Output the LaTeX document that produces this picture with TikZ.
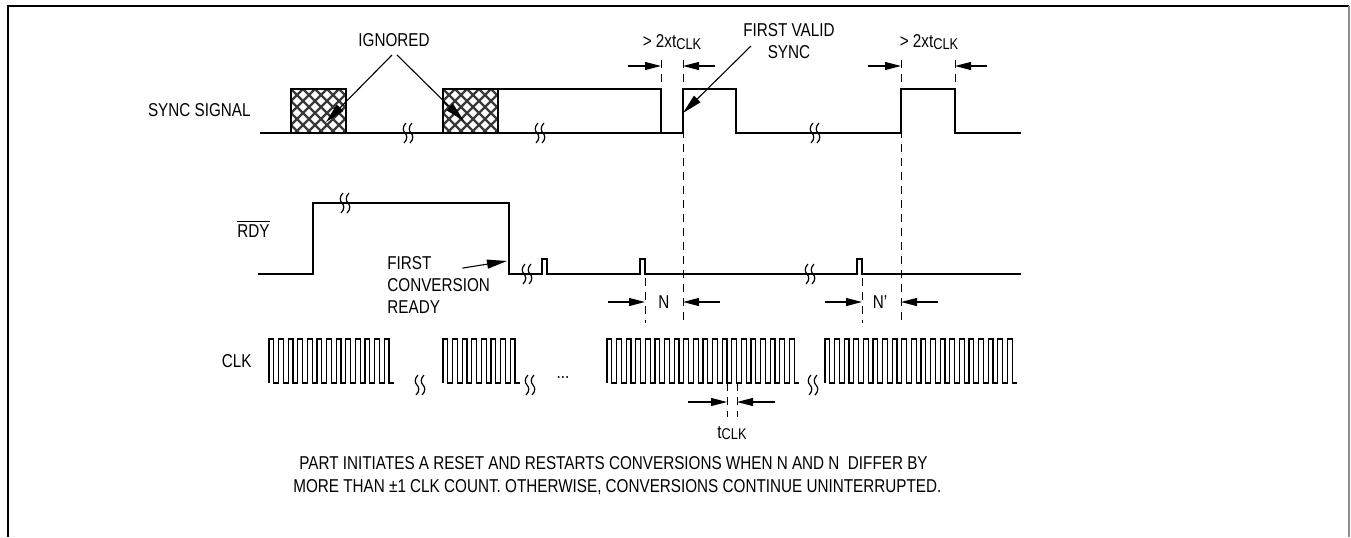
\documentclass[tikz,border=0pt]{standalone}
\usepackage{fontspec}
\setmainfont{Liberation Sans}[FakeStretch=0.82]
\usepackage{tikz}
\usetikzlibrary{arrows.meta, calc}
\definecolor{hatchgray}{HTML}{3A3A3A}
\definecolor{framegray}{HTML}{8C8C8C}

\tikzset{
  sig/.style={line width=0.6pt},
  guide/.style={line width=0.5pt, dash pattern=on 4pt off 3pt},
  dimarrow/.style={line width=0.55pt, -{Triangle[length=8pt,width=4pt]}},
  callout/.style={line width=0.55pt, -{Triangle[length=10pt,width=4.5pt]}},
  lbl/.style={font=\fontsize{9.3}{11}\selectfont, inner sep=0pt},
  brk/.pic={
    \draw[sig] (-2,-10) .. controls (-6,-6) and (-5,-2) .. (-3,0) .. controls (-1,2) and (0,6) .. (-4,10);
    \draw[sig] (4,-10) .. controls (0,-6) and (1,-2) .. (3,0) .. controls (5,2) and (6,6) .. (2,10);
  }
}

\begin{document}
\begin{tikzpicture}[x=0.5pt, y=-0.5pt]
  \useasboundingbox (0,0) rectangle (1351,537);
  % frame
  \draw[line width=0.9pt] (8,537) -- (8,6) -- (1349,6);
  \draw[framegray, line width=0.9pt] (1349,6) -- (1349,537);

  % signal names
  \node[lbl, anchor=east] (syncname) at (251,110) {SYNC SIGNAL};
  \node[lbl, anchor=east] (rdyname) at (270,229) {$\overline{\mbox{RDY}}$};
  \node[lbl, anchor=east] (clkname) at (252,361) {CLK};

  % sync signal
  \draw[sig] (260,133) -- (683,133) |- (736,89) |- (901,133) |- (955,89) |- (1021,133);
  \draw[sig] (498,89) -- (661,89) -- (661,133);
  \foreach \bx in {291,443} {
    \begin{scope}
      \clip (\bx,89) rectangle ++(55,44);
      \fill[white] (\bx,89) rectangle ++(55,44);
      \foreach \i in {-4,...,8} {
        \draw[hatchgray, line width=1.2pt] (\bx+\i*12,89) -- ++(44,44);
        \draw[hatchgray, line width=1.2pt] (\bx+\i*12,89) -- ++(-44,44);
      }
    \end{scope}
    \draw[line width=0.8pt] (\bx,89) rectangle ++(55,44);
  }
  \pic at (408,133) {brk};
  \pic at (540,133) {brk};
  \pic at (815,133) {brk};

  % RDY
  \draw[sig] (258,274) -| (313,203) -- (509,203) |- (542,274) |- (547,259) |- (640,274)
    |- (645,259) |- (857,274) |- (862,259) |- (1021,274);
  \pic at (345,203) {brk};
  \pic at (527,274) {brk};
  \pic at (810,274) {brk};

  % CLK bursts
  \foreach \s/\n in {269/13, 443/8, 607/20, 825/20}
    \draw[sig] (\s,383) \foreach \k in {1,...,\n} { -- ++(0,-44) -- ++(4.8,0) -- ++(0,44) -- ++(4.8,0) };
  \pic at (420,385) {brk};
  \pic at (530,385) {brk};
  \pic at (813,385) {brk};
  \node[lbl, anchor=base] (dots) at (563,378) {...};

  % dashed guides
  \draw[guide] (661,60) -- (661,89);
  \draw[guide] (683,60) -- (683,323);
  \draw[guide] (901,60) -- (901,323);
  \draw[guide] (955,60) -- (955,89);
  \draw[guide] (645,278) -- (645,323);
  \draw[guide] (862,278) -- (862,323);
  \draw[guide] (727,383) -- (727,417);
  \draw[guide] (737,383) -- (737,417);

  % timing marks
  \coordinate (syncA) at (661,66);
  \coordinate (syncB) at (683,66);
  \coordinate (syncC) at (901,66);
  \coordinate (syncD) at (955,66);
  \coordinate (nA) at (645,302);
  \coordinate (nB) at (683,302);
  \coordinate (npA) at (862,302);
  \coordinate (npB) at (901,302);
  \coordinate (tA) at (727,402);
  \coordinate (tB) at (737,402);
  \draw[dimarrow] ([xshift=-16.5pt]syncA) -- (syncA);
  \draw[dimarrow] ([xshift=16pt]syncB) -- (syncB);
  \draw[dimarrow] ([xshift=-16.5pt]syncC) -- (syncC);
  \draw[dimarrow] ([xshift=16pt]syncD) -- (syncD);
  \draw[dimarrow] ([xshift=-18.5pt]nA) -- (nA);
  \draw[dimarrow] ([xshift=18.5pt]nB) -- (nB);
  \draw[dimarrow] ([xshift=-18.5pt]npA) -- (npA);
  \draw[dimarrow] ([xshift=18.5pt]npB) -- (npB);
  \draw[dimarrow] ([xshift=-19.5pt]tA) -- (tA);
  \draw[dimarrow] ([xshift=19pt]tB) -- (tB);

  \node[lbl] (gapA) at (672,42) {> 2xt\raisebox{-0.7pt}{\fontsize{7.8}{9}\selectfont CLK}};
  \node[lbl] (gapB) at (929,42) {> 2xt\raisebox{-0.7pt}{\fontsize{7.8}{9}\selectfont CLK}};
  \node[lbl] (nlbl) at (664,302) {N};
  \node[lbl] (nplbl) at (880,302) {N’};
  \node[lbl] (tclk) at (732,433) {t\raisebox{-0.7pt}{\fontsize{7.8}{9}\selectfont CLK}};

  % callouts
  \node[lbl] (ign) at (394,40) {IGNORED};
  \coordinate (ignA) at (326,122);
  \coordinate (ignB) at (464,121);
  \draw[callout] ([xshift=-1pt, yshift=-4pt]ign.south) -- (ignA);
  \draw[callout] ([xshift=1.5pt, yshift=-4pt]ign.south) -- (ignB);

  \node[lbl, align=center] (fvs) at (789,41) {FIRST VALID\\SYNC};
  \coordinate (fvsH) at (683,113);
  \draw[callout] ([xshift=4pt, yshift=-2.5pt]fvs.west) -- (fvsH);

  \node[lbl, align=left, anchor=west] (fcr) at (387,285) {FIRST\\CONVERSION\\READY};
  \coordinate (fcrH) at (507,261);
  \draw[callout] ([xshift=-14pt, yshift=-6pt]fcr.north east) -- (fcrH);

  % note
  \node[lbl, anchor=base west] (note1) at (299,469) {PART INITIATES A RESET AND RESTARTS CONVERSIONS WHEN N AND N~~DIFFER BY};
  \node[lbl, anchor=base west] (note2) at (293,492) {MORE THAN ±1 CLK COUNT. OTHERWISE, CONVERSIONS CONTINUE UNINTERRUPTED.};
\end{tikzpicture}
\end{document}
